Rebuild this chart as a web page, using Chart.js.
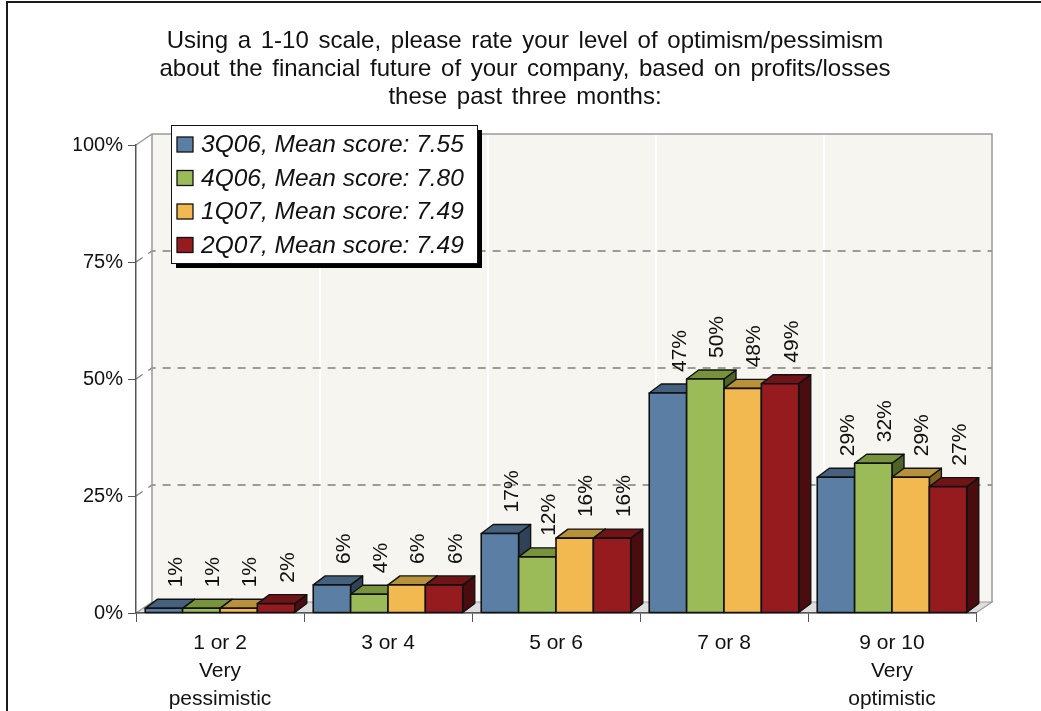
<!DOCTYPE html>
<html>
<head>
<meta charset="utf-8">
<title>Optimism about financial future</title>
<script src="https://cdn.jsdelivr.net/npm/chart.js@4.4.1/dist/chart.umd.min.js"></script>
<style>
    html, body { margin: 0; padding: 0; background: #fff; }
    #wrap { position: relative; width: 1041px; height: 711px; overflow: hidden; }
    #wrap canvas { position: absolute; left: 0; top: 0; }
    #frame {
        position: absolute; left: 6px; top: 1px; right: -10px; bottom: -10px;
        border-left: 2px solid #1a1a1a; border-top: 2px solid #1a1a1a;
        pointer-events: none;
    }
</style>
</head>
<body>
<div id="wrap">
    <canvas id="ratingChart" width="1041" height="711"></canvas>
    <div id="frame"></div>
</div>
<script>
const titleLines = [
    'Using a 1-10 scale, please rate your level of optimism/pessimism',
    'about the financial future of your company, based on profits/losses',
    'these past three months:'
];
const categories = [['1 or 2', 'Very', 'pessimistic'], '3 or 4', '5 or 6', '7 or 8', ['9 or 10', 'Very', 'optimistic']];
const seriesNames = ['3Q06, Mean score: 7.55', '4Q06, Mean score: 7.80', '1Q07, Mean score: 7.49', '2Q07, Mean score: 7.49'];
const q306 = [1, 6, 17, 47, 29];
const q406 = [1, 4, 12, 50, 32];
const q107 = [1, 6, 16, 48, 29];
const q207 = [2, 6, 16, 49, 27];
const yTicks = [0, 25, 50, 75, 100];

// front / top / side shades for each series
const palette = [
    { front: '#5b7fa4', top: '#45617d', side: '#2f4257' },
    { front: '#9bbb59', top: '#77933c', side: '#4f6228' },
    { front: '#f1b94f', top: '#b8913b', side: '#7f6221' },
    { front: '#951b1e', top: '#701417', side: '#4a0c0f' }
];

const FONT = '"Liberation Sans", Arial, sans-serif';
const WALL = { x: 16, y: 11 };   // depth of the back wall
const BAR = { x: 12, y: 9 };     // depth of each bar

function poly(ctx, pts, fill, stroke, lw) {
    ctx.beginPath();
    ctx.moveTo(pts[0][0], pts[0][1]);
    for (let i = 1; i < pts.length; i++) ctx.lineTo(pts[i][0], pts[i][1]);
    ctx.closePath();
    if (fill) { ctx.fillStyle = fill; ctx.fill(); }
    if (stroke) { ctx.strokeStyle = stroke; ctx.lineWidth = lw || 1; ctx.stroke(); }
}

// title words sit a little further apart than the default spacing
const spacedTitle = {
    id: 'spacedTitle',
    afterLayout(chart) {
        const t = chart.titleBlock;
        if (!t || t._spaced) return;
        const draw = t.draw.bind(t);
        t.draw = function () {
            const ctx = chart.ctx;
            const prev = ctx.wordSpacing;
            ctx.wordSpacing = '3px';
            draw();
            ctx.wordSpacing = prev || '0px';
        };
        t._spaced = true;
    }
};

// walls, floor and grid behind everything
const walls = {
    id: 'walls',
    beforeDraw(chart) {
        const { ctx, chartArea: a, scales } = chart;
        const dx = WALL.x, dy = WALL.y;
        ctx.save();
        // left wall
        poly(ctx, [[a.left, a.top], [a.left + dx, a.top - dy], [a.left + dx, a.bottom - dy], [a.left, a.bottom]], '#ffffff');
        // back wall
        ctx.fillStyle = '#f6f5f0';
        ctx.fillRect(a.left + dx, a.top - dy, a.right - a.left, a.bottom - a.top);

        // light separators between categories
        ctx.strokeStyle = '#ffffff';
        ctx.lineWidth = 2;
        for (let i = 1; i < categories.length; i++) {
            const bx = (scales.x.getPixelForValue(i - 1) + scales.x.getPixelForValue(i)) / 2 + dx;
            ctx.beginPath();
            ctx.moveTo(bx, a.top - dy);
            ctx.lineTo(bx, a.bottom - dy);
            ctx.stroke();
        }

        // dashed gridlines across left wall and back wall
        ctx.strokeStyle = '#7f7f7f';
        ctx.lineWidth = 1.3;
        ctx.setLineDash([8, 7]);
        yTicks.forEach(v => {
            if (v === 0 || v === 100) return;
            const py = scales.y.getPixelForValue(v);
            ctx.beginPath();
            ctx.moveTo(a.left, py);
            ctx.lineTo(a.left + dx, py - dy);
            ctx.lineTo(a.right + dx, py - dy);
            ctx.stroke();
        });
        ctx.setLineDash([]);

        // wall outlines
        ctx.strokeStyle = '#9a9a9a';
        ctx.lineWidth = 1.5;
        ctx.beginPath();
        ctx.moveTo(a.left, a.top);
        ctx.lineTo(a.left + dx, a.top - dy);
        ctx.lineTo(a.right + dx, a.top - dy);
        ctx.lineTo(a.right + dx, a.bottom - dy);
        ctx.moveTo(a.left + dx, a.top - dy);
        ctx.lineTo(a.left + dx, a.bottom - dy);
        ctx.stroke();

        // floor
        poly(ctx, [[a.left, a.bottom], [a.right, a.bottom], [a.right + dx, a.bottom - dy], [a.left + dx, a.bottom - dy]],
            '#dedede', '#9a9a9a', 1.2);
        ctx.restore();
    }
};

// bars drawn as boxes: side and top first, then the front face
const bars3d = {
    id: 'bars3d',
    beforeDatasetsDraw(chart) {
        const ctx = chart.ctx;
        const dx = BAR.x, dy = BAR.y;
        ctx.save();
        ctx.lineJoin = 'round';
        chart.data.datasets.forEach((ds, i) => {
            const meta = chart.getDatasetMeta(i);
            const c = palette[i];
            meta.data.forEach(bar => {
                const { x, y, base, width } = bar.getProps(['x', 'y', 'base', 'width'], true);
                const l = x - width / 2, r = x + width / 2;
                poly(ctx, [[r, y], [r + dx, y - dy], [r + dx, base - dy], [r, base]], c.side, '#111', 1.4);
                poly(ctx, [[l, y], [r, y], [r + dx, y - dy], [l + dx, y - dy]], c.top, '#111', 1.4);
                poly(ctx, [[l, y], [r, y], [r, base], [l, base]], c.front, '#111', 1.6);
            });
        });
        ctx.restore();
        return false;
    }
};

// rotated value labels above each bar
const valueLabels = {
    id: 'valueLabels',
    afterDraw(chart) {
        const ctx = chart.ctx;
        ctx.save();
        ctx.font = '21px ' + FONT;
        ctx.fillStyle = '#111';
        ctx.textAlign = 'left';
        ctx.textBaseline = 'middle';
        chart.data.datasets.forEach((ds, i) => {
            chart.getDatasetMeta(i).data.forEach((bar, j) => {
                const { x, y } = bar.getProps(['x', 'y'], true);
                ctx.save();
                ctx.translate(x + BAR.x, y - 21);
                ctx.rotate(-Math.PI / 2);
                ctx.fillText(ds.data[j] + '%', 0, 0);
                ctx.restore();
            });
        });
        ctx.restore();
    }
};

// boxed legend with drop shadow inside the plot
const legendBox = {
    id: 'legendBox',
    afterDraw(chart) {
        const { ctx, chartArea: a } = chart;
        const bx = a.left + 35, by = a.top - 20, bw = 306, bh = 138;
        ctx.save();
        ctx.fillStyle = '#000';
        ctx.fillRect(bx + 5, by + 5, bw, bh);
        ctx.fillStyle = '#fff';
        ctx.fillRect(bx, by, bw, bh);
        ctx.strokeStyle = '#111';
        ctx.lineWidth = 1;
        ctx.strokeRect(bx + 0.5, by + 0.5, bw, bh);
        ctx.font = 'italic 24.5px ' + FONT;
        ctx.textBaseline = 'middle';
        chart.data.datasets.forEach((ds, i) => {
            const cy = by + 19.5 + i * 33.5;
            ctx.fillStyle = palette[i].front;
            ctx.fillRect(bx + 6, cy - 7.5, 16, 15);
            ctx.strokeStyle = '#111';
            ctx.lineWidth = 1.3;
            ctx.strokeRect(bx + 6, cy - 7.5, 16, 15);
            ctx.fillStyle = '#111';
            ctx.fillText(ds.label, bx + 30, cy + 1);
        });
        ctx.restore();
    }
};

const series = [q306, q406, q107, q207];

new Chart(document.getElementById('ratingChart'), {
    type: 'bar',
    data: {
        labels: categories,
        datasets: series.map((values, i) => ({
            label: seriesNames[i],
            data: values,
            backgroundColor: palette[i].front,
            categoryPercentage: 0.89,
            barPercentage: 1
        }))
    },
    options: {
        responsive: false,
        animation: false,
        devicePixelRatio: 1,
        layout: { padding: { left: 74, right: 65, top: 0, bottom: 0 } },
        plugins: {
            legend: { display: false },
            tooltip: { enabled: false },
            title: {
                display: true,
                text: titleLines,
                color: '#111',
                font: { family: FONT, size: 24, weight: 'normal', lineHeight: '28px' },
                padding: { top: 27, bottom: 34 }
            }
        },
        scales: {
            x: {
                grid: { drawOnChartArea: false, tickLength: 9, color: '#555', offset: true },
                border: { color: '#555', width: 1.5 },
                ticks: {
                    color: '#111',
                    font: { family: FONT, size: 21, lineHeight: '28px' },
                    padding: 7,
                    maxRotation: 0,
                    autoSkip: false
                },
                afterFit(scale) { scale.height = 98; }
            },
            y: {
                min: 0,
                max: 100,
                afterBuildTicks(scale) { scale.ticks = yTicks.map(v => ({ value: v })); },
                ticks: {
                    color: '#111',
                    font: { family: FONT, size: 20 },
                    padding: 5,
                    callback: v => v + '%'
                },
                grid: { drawOnChartArea: false, tickLength: 8, color: '#555' },
                border: { color: '#555', width: 1.5 },
                afterFit(scale) { scale.width = 62; }
            }
        }
    },
    plugins: [spacedTitle, walls, bars3d, valueLabels, legendBox]
});
</script>
</body>
</html>
